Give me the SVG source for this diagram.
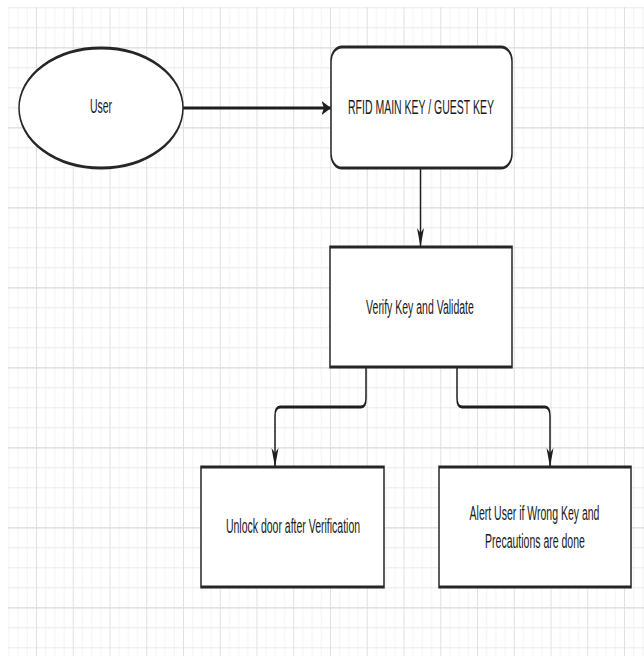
<svg xmlns="http://www.w3.org/2000/svg" width="644" height="656" viewBox="0 0 644 656">
  <defs>
    <pattern id="grid" patternUnits="userSpaceOnUse" x="-0.75" y="3.5" width="36.75" height="40">
      <rect x="9.19" y="0" width="1" height="40" fill="#f3f3f3"/>
      <rect x="18.375" y="0" width="1" height="40" fill="#f3f3f3"/>
      <rect x="27.56" y="0" width="1" height="40" fill="#f3f3f3"/>
      <rect x="0" y="0" width="36.75" height="0.7" fill="#f0f0f0"/>
      <rect x="0" y="10" width="36.75" height="0.7" fill="#f0f0f0"/>
      <rect x="0" y="30" width="36.75" height="0.7" fill="#f0f0f0"/>
      <rect x="0" y="20" width="36.75" height="0.8" fill="#e2e2e2"/>
      <rect x="0" y="0" width="1" height="40" fill="#e0e0e0"/>
    </pattern>
    <marker id="arr" markerUnits="userSpaceOnUse" viewBox="0 -4 10 8" refX="9.5" refY="0" markerWidth="10" markerHeight="8" orient="auto">
      <path d="M0,-3.5 L9.5,0 L0,3.5 L2.5,0 Z" fill="#1e1e1e"/>
    </marker>
  </defs>
  <style>
    .shape { fill: #ffffff; stroke: #262626; stroke-width: 1.5; }
    .edge { fill: none; stroke: #1e1e1e; stroke-width: 1.5; marker-end: url(#arr); }
    .label { font-family: "Liberation Sans", Arial, sans-serif; font-size: 10.5px; fill: #1a1a1a; text-anchor: middle; }
  </style>
  <rect x="0" y="0" width="644" height="656" fill="#ffffff"/>
  <g transform="scale(1,2)">
    <rect x="8" y="3.5" width="636" height="324.5" fill="url(#grid)"/>

    <g id="connectors">
      <path class="edge" d="M183,54 H331"/>
      <path class="edge" d="M420.5,84 V123.5"/>
      <path class="edge" d="M366,183.5 V199 Q366,203.5 361,203.5 H280 Q275,203.5 275,208 V233.5"/>
      <path class="edge" d="M457,183.5 V199 Q457,203.5 462,203.5 H545 Q550,203.5 550,208 V233.5"/>
    </g>

    <g id="user">
      <ellipse class="shape" cx="101" cy="54" rx="82" ry="30"/>
      <text class="label" x="101" y="56.75">User</text>
    </g>

    <g id="rfid">
      <rect class="shape" x="331" y="23.5" width="181" height="60.5" rx="11" ry="7"/>
      <text class="label" x="421" y="57">RFID MAIN KEY / GUEST KEY</text>
    </g>

    <g id="verify">
      <rect class="shape" x="330" y="123.5" width="182" height="60"/>
      <text class="label" x="420" y="157">Verify Key and Validate</text>
    </g>

    <g id="unlock">
      <rect class="shape" x="201" y="233.5" width="183" height="60"/>
      <text class="label" x="293" y="266.3">Unlock door after Verification</text>
    </g>

    <g id="alert">
      <rect class="shape" x="439" y="233.5" width="192" height="60"/>
      <text class="label" x="534.5" y="260">Alert User if Wrong Key and</text>
      <text class="label" x="535" y="274">Precautions are done</text>
    </g>
  </g>
</svg>
